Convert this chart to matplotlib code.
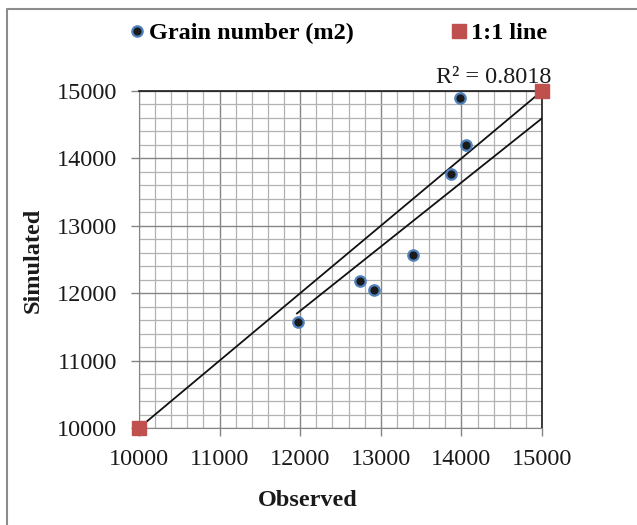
import matplotlib
matplotlib.use("Agg")
import matplotlib.pyplot as plt
from matplotlib.lines import Line2D
from matplotlib.ticker import MultipleLocator

plt.rcParams['font.family'] = ['Liberation Serif', 'DejaVu Serif']

# Data
observed = [13983, 14052, 13867, 13404, 12742, 12916, 11969]
simulated = [14892, 14199, 13764, 12567, 12185, 12047, 11573]
one_to_one = [10000, 15000]
trend_x = [11960, 15000]
trend_y = [11700, 14595]
r_squared = "R\u00b2 = 0.8018"
ticks = [10000, 11000, 12000, 13000, 14000, 15000]

fig = plt.figure(figsize=(6.37, 5.25), dpi=100)
ax = fig.add_axes([139 / 637, 1 - 428 / 525, 403 / 637, 337 / 525])

# Grid
ax.xaxis.set_minor_locator(MultipleLocator(200))
ax.yaxis.set_minor_locator(MultipleLocator(200))
ax.grid(which='minor', color='#b2b2b2', linewidth=0.9, zorder=0)
ax.grid(which='major', color='#858585', linewidth=1.0, zorder=0)
ax.set_axisbelow(True)

# Series
ax.plot(observed, simulated, 'o', color='#1a1a1a', markeredgecolor='#4f81bd',
        markeredgewidth=1.6, markersize=7.5, label='Grain number (m2)',
        zorder=4, clip_on=False)
ax.plot(one_to_one, one_to_one, '-', color='#111111', linewidth=1.3, zorder=3)
ax.plot(one_to_one, one_to_one, 's', color='#c0504d', markersize=10,
        label='1:1 line', zorder=5, clip_on=False)
ax.plot(trend_x, trend_y, '-', color='#111111', linewidth=1.3, zorder=3)

ax.set_xlim(10000, 15000)
ax.set_ylim(10000, 15000)
ax.set_xticks(ticks)
ax.set_yticks(ticks)
ax.tick_params(which='major', direction='out', length=6, width=1, color='#858585',
               labelsize=17.5, labelcolor='#1a1a1a')
ax.tick_params(axis='x', which='major', pad=9)
ax.tick_params(axis='y', which='major', pad=10)
ax.tick_params(which='minor', length=0)

for side in ['bottom', 'left']:
    ax.spines[side].set_color('#858585')
for side in ['top', 'right']:
    ax.spines[side].set_color('#1a1a1a')
    ax.spines[side].set_linewidth(1.2)

# Labels
fig.text(308 / 637, 1 - 500 / 525, 'Observed', ha='center', va='center',
         fontsize=17.5, fontweight='bold', color='#1a1a1a')
fig.text(33 / 637, 1 - 260 / 525, 'Simulated', ha='center', va='center',
         rotation=90, fontsize=17.5, fontweight='bold', color='#1a1a1a')
fig.text(551 / 637, 1 - 77 / 525, r_squared, ha='right', va='center',
         fontsize=17.5, color='#1a1a1a')

fig.legend(loc='center', bbox_to_anchor=(336 / 637, 1 - 33 / 525), ncol=2,
           frameon=False, prop={'size': 17.5, 'weight': 'bold'},
           handletextpad=0.0, columnspacing=3.8, handlelength=1.0)

# Outer border (left and top)
fig.add_artist(Line2D([7 / 637, 7 / 637, 1.0], [0.0, 1 - 9 / 525, 1 - 9 / 525],
                      transform=fig.transFigure, color='#8c8c8c', linewidth=1.5))

fig.savefig('out.png', dpi=100)
